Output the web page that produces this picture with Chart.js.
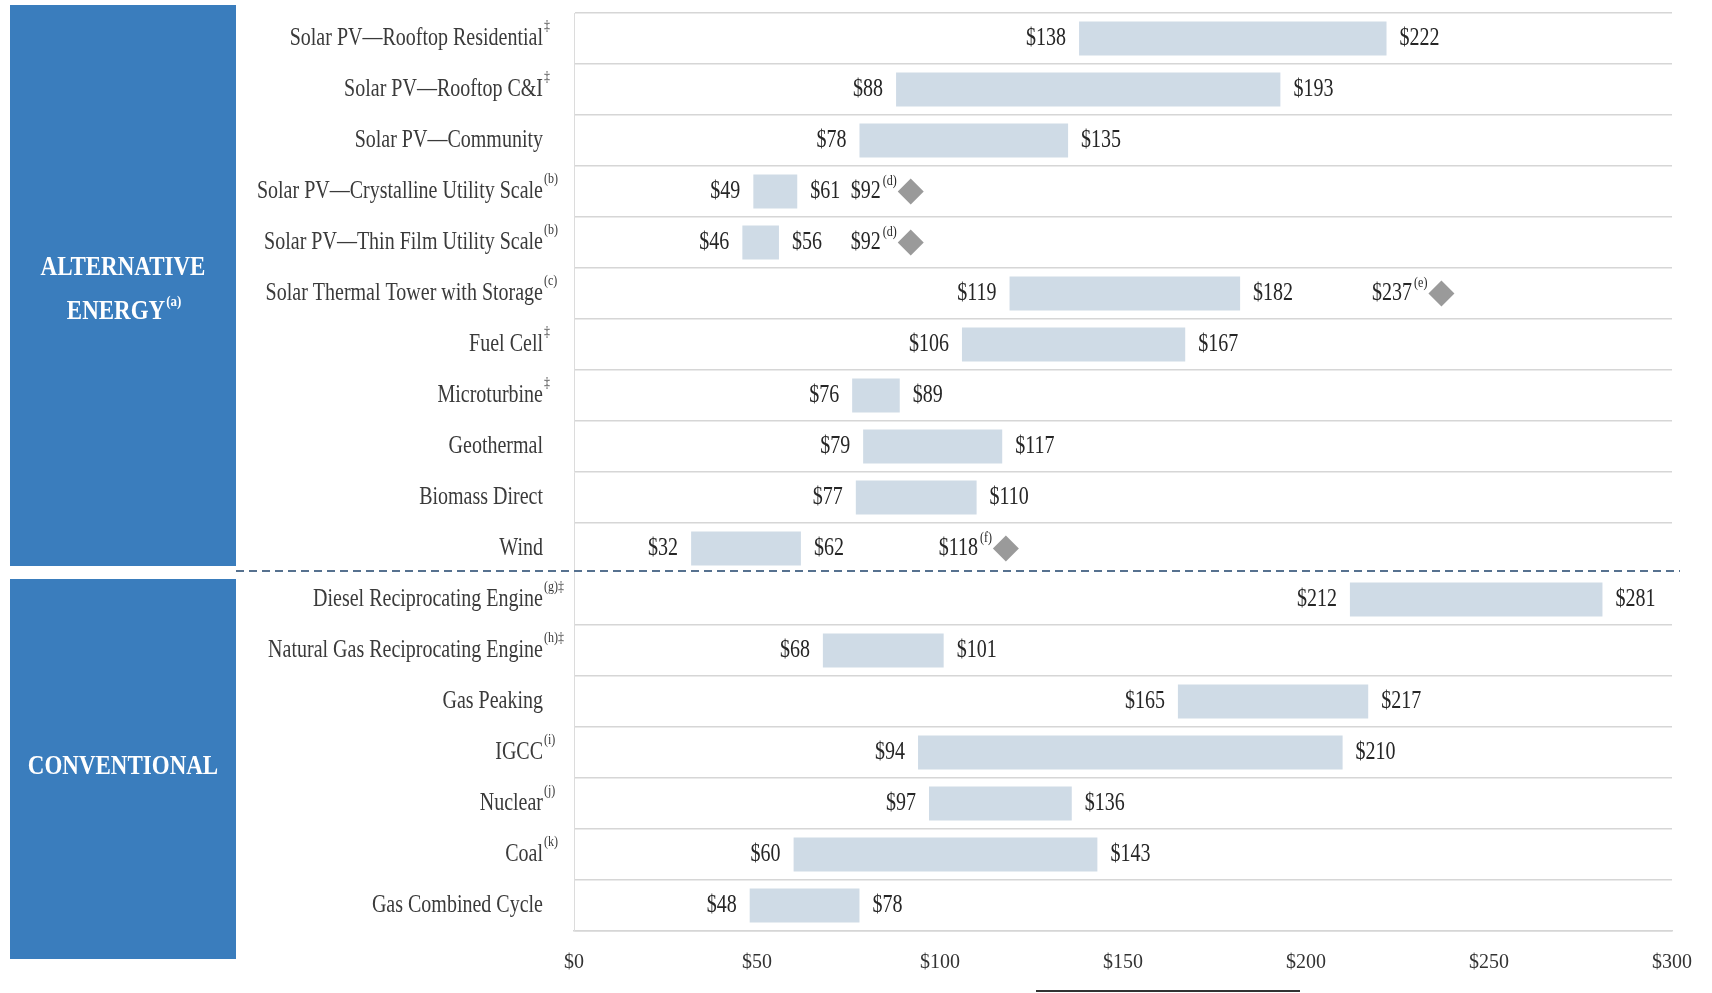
<!DOCTYPE html>
<html>
<head>
<meta charset="utf-8">
<script src="https://cdn.jsdelivr.net/npm/chart.js@4.4.1/dist/chart.umd.min.js"></script>
<style>
  body { margin: 0; background: #fff; overflow: hidden; }
  #wrap { position: relative; width: 1712px; height: 993px; overflow: hidden; }
  #underline { position: absolute; left: 1036px; top: 990px; width: 264px; border-top: 2px solid #333; }
</style>
</head>
<body>
<div id="wrap">
  <canvas id="myChart" width="1712" height="997"></canvas>
  <div id="underline"></div>
</div>
<script>
// 分類與註記
const categories = [
    'Solar PV—Rooftop Residential', 'Solar PV—Rooftop C&I', 'Solar PV—Community',
    'Solar PV—Crystalline Utility Scale', 'Solar PV—Thin Film Utility Scale',
    'Solar Thermal Tower with Storage', 'Fuel Cell', 'Microturbine', 'Geothermal',
    'Biomass Direct', 'Wind',
    'Diesel Reciprocating Engine', 'Natural Gas Reciprocating Engine', 'Gas Peaking',
    'IGCC', 'Nuclear', 'Coal', 'Gas Combined Cycle'
];
const categoryNotes = ['‡', '‡', '', '(b)', '(b)', '(c)', '‡', '‡', '', '', '', '(g)‡', '(h)‡', '', '(i)', '(j)', '(k)', ''];
const altCount = 11; // 前 11 項為 alternative energy

// 區間數值
const lowValues = [138, 88, 78, 49, 46, 119, 106, 76, 79, 77, 32, 212, 68, 165, 94, 97, 60, 48];
const highValues = [222, 193, 135, 61, 56, 182, 167, 89, 117, 110, 62, 281, 101, 217, 210, 136, 143, 78];
// 菱形標記
const markerValues = [null, null, null, 92, 92, 237, null, null, null, null, 118, null, null, null, null, null, null, null];
const markerNotes = ['', '', '', '(d)', '(d)', '(e)', '', '', '', '', '(f)', '', '', '', '', '', '', ''];

const tickValues = [0, 50, 100, 150, 200, 250, 300];

const serif = '"Liberation Serif", "DejaVu Serif", serif';

// 垂直拉長的文字 (原圖字體較瘦高)
function tallText(ctx, text, x, y, align, sy) {
    ctx.save();
    ctx.translate(x, y);
    ctx.scale(1, sy || 1.25);
    ctx.textAlign = align;
    ctx.textBaseline = 'middle';
    ctx.fillText(text, 0, 0);
    ctx.restore();
}

function splitPixel(chart) {
    const y = chart.scales.y;
    return (y.getPixelForValue(altCount - 1) + y.getPixelForValue(altCount)) / 2;
}

// 左側藍色區塊
const panelPlugin = {
    id: 'panels',
    beforeDraw(chart) {
        const ctx = chart.ctx;
        const split = splitPixel(chart);
        ctx.save();
        ctx.fillStyle = '#3a7dbd';
        ctx.fillRect(10, 5, 226, split - 13);
        ctx.fillRect(10, split + 5, 226, 959 - split - 5);

        ctx.fillStyle = '#ffffff';
        ctx.font = 'bold 23px ' + serif;
        tallText(ctx, 'ALTERNATIVE', 123, 268, 'center', 1.2);
        const w = ctx.measureText('ENERGY').width;
        tallText(ctx, 'ENERGY', 116 - w / 2, 312, 'left', 1.2);
        ctx.font = 'bold 13px ' + serif;
        tallText(ctx, '(a)', 117 + w / 2, 302, 'left', 1.2);
        ctx.font = 'bold 23px ' + serif;
        tallText(ctx, 'CONVENTIONAL', 123, 767, 'center', 1.2);
        ctx.restore();
    }
};

// 標籤與數值
const labelPlugin = {
    id: 'labels',
    afterDatasetsDraw(chart) {
        const ctx = chart.ctx;
        const area = chart.chartArea;
        const yScale = chart.scales.y;
        const bars = chart.getDatasetMeta(0).data;
        const points = chart.getDatasetMeta(1).data;
        const split = splitPixel(chart);

        ctx.save();
        // 分隔虛線
        ctx.strokeStyle = '#56718f';
        ctx.lineWidth = 2;
        ctx.setLineDash([8, 5]);
        ctx.beginPath();
        ctx.moveTo(236, split - 3);
        ctx.lineTo(area.right + 8, split - 3);
        ctx.stroke();
        ctx.setLineDash([]);

        categories.forEach((name, i) => {
            const y = yScale.getPixelForValue(i);
            ctx.fillStyle = '#3a3a3a';
            ctx.font = '20px ' + serif;
            tallText(ctx, name, area.left - 31, y, 'right');
            if (categoryNotes[i]) {
                ctx.font = '12px ' + serif;
                tallText(ctx, categoryNotes[i], area.left - 30, y - 12, 'left');
            }

            const bar = bars[i];
            const lo = Math.min(bar.x, bar.base);
            const hi = Math.max(bar.x, bar.base);
            ctx.fillStyle = '#262626';
            ctx.font = '20px ' + serif;
            tallText(ctx, '$' + lowValues[i], lo - 13, y, 'right');
            tallText(ctx, '$' + highValues[i], hi + 13, y, 'left');

            if (markerValues[i] !== null) {
                const px = points[i].x;
                ctx.font = '12px ' + serif;
                const supW = ctx.measureText(markerNotes[i]).width;
                tallText(ctx, markerNotes[i], px - 14, y - 10, 'right');
                ctx.font = '20px ' + serif;
                tallText(ctx, '$' + markerValues[i], px - 16 - supW, y, 'right');
            }
        });
        ctx.restore();
    }
};

const ctx = document.getElementById('myChart');

const chartConfig = {
    type: 'bar',
    data: {
        labels: categories,
        datasets: [{
            type: 'bar',
            data: categories.map((c, i) => [lowValues[i], highValues[i]]),
            backgroundColor: '#cfdbe6',
            borderWidth: 0,
            barPercentage: 0.67,
            categoryPercentage: 1,
            order: 2
        }, {
            type: 'line',
            indexAxis: 'y',
            data: markerValues,
            showLine: false,
            pointStyle: 'rectRot',
            pointRadius: 13,
            pointBackgroundColor: '#9a9a9a',
            pointBorderWidth: 0,
            order: 1
        }]
    },
    options: {
        indexAxis: 'y',
        responsive: false,
        animation: false,
        layout: { padding: { left: 574, right: 35, top: 11, bottom: 2 } },
        plugins: { legend: { display: false }, tooltip: { enabled: false } },
        scales: {
            x: {
                type: 'linear',
                min: 0,
                max: 300,
                afterBuildTicks: (scale) => { scale.ticks = tickValues.map(v => ({ value: v })); },
                ticks: {
                    callback: (v) => '$' + v,
                    font: { family: serif, size: 20 },
                    color: '#333',
                    padding: 20,
                    maxRotation: 0
                },
                grid: { display: false, drawTicks: false },
                border: { display: true, color: '#d6d6d6', width: 1.5 }
            },
            y: {
                ticks: { display: false },
                grid: {
                    offset: true,
                    drawTicks: false,
                    lineWidth: 1.5,
                    color: (c) => c.index === altCount ? 'rgba(0,0,0,0)' : '#d6d6d6'
                },
                border: { color: '#dcdcdc', width: 1 }
            }
        }
    },
    plugins: [panelPlugin, labelPlugin]
};
new Chart(ctx, chartConfig);
</script>
</body>
</html>
